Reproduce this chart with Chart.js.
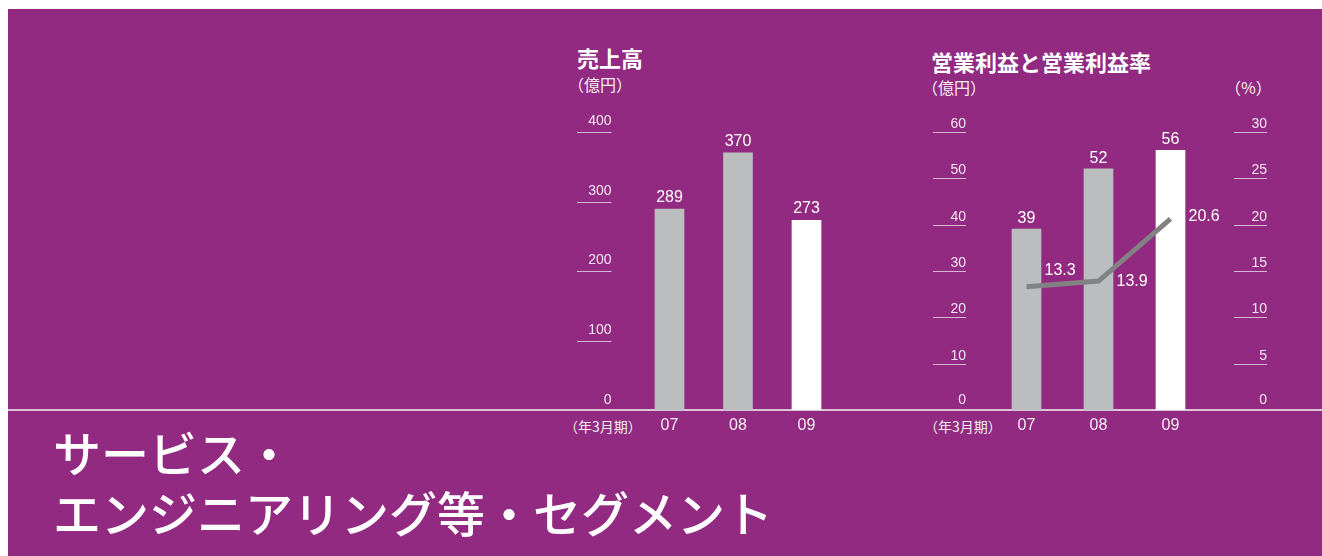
<!DOCTYPE html>
<html lang="ja">
<head>
<meta charset="utf-8">
<script src="https://cdn.jsdelivr.net/npm/chart.js@4.4.1/dist/chart.umd.min.js"></script>
<style>
  body { margin: 0; width: 1322px; height: 556px; background: #fff; position: relative; overflow: hidden; font-family: "Noto Sans CJK JP", sans-serif; }
  #panel { position: absolute; left: 8px; top: 9px; right: 0; bottom: 0; background: #922a82; }
  #rule { position: absolute; left: 8px; right: 0; top: 409px; height: 2px; background: #dcc3d8; }
  .t { position: absolute; color: #fff; white-space: nowrap; }
  .h { font-size: 22px; line-height: 22px; font-weight: 700; }
  .u { font-size: 16px; line-height: 16px; color: #f6ecf4; }
  .yr { font-size: 14px; line-height: 14px; color: #f6ecf4; }
  #big { left: 53px; top: 421px; font-size: 48px; line-height: 60px; font-weight: 500; }
  canvas { position: absolute; }
</style>
</head>
<body>
<div id="panel"></div>
<div id="rule"></div>

<div class="t h" style="left:577px; top:46px;">売上高</div>
<div class="t u" style="left:568px; top:76px;">（億円）</div>
<div class="t h" style="left:931px; top:50px;">営業利益と営業利益率</div>
<div class="t u" style="left:922px; top:79px;">（億円）</div>
<div class="t u" style="left:1225px; top:79px;">（%）</div>
<div class="t yr" style="left:564px; top:419px;">（年3月期）</div>
<div class="t yr" style="left:924px; top:419px;">（年3月期）</div>

<canvas id="sales" width="300" height="350" style="left:560px; top:100px;"></canvas>
<canvas id="profit" width="422" height="350" style="left:900px; top:100px;"></canvas>

<div class="t" id="big">サービス・<br>エンジニアリング等・セグメント</div>

<script>
var years = ['07', '08', '09'];
var salesValues = [289, 370, 273];
var profitValues = [39, 52, 56];
var marginValues = [13.3, 13.9, 20.6];
var salesTicks = [0, 100, 200, 300, 400];
var profitTicks = [0, 10, 20, 30, 40, 50, 60];
var marginTicks = [0, 5, 10, 15, 20, 25, 30];
var barColors = ['#bcbdbf', '#bcbdbf', '#ffffff'];

var numFont = '16px "Liberation Sans", Arial, sans-serif';
var tickFont = '14px "Liberation Sans Narrow", "Liberation Sans", Arial, sans-serif';

function fixedTicks(values) {
    return function (scale) {
        scale.ticks = values.map(function (v) { return { value: v }; });
    };
}

// short tick strokes with the number sitting on top of each one
var shortTicks = {
    id: 'shortTicks',
    afterDraw: function (chart, args, opts) {
        var ctx = chart.ctx;
        ctx.save();
        ctx.font = tickFont;
        ctx.textAlign = 'right';
        ctx.textBaseline = 'alphabetic';
        opts.axes.forEach(function (a) {
            var scale = chart.scales[a.id];
            scale.ticks.forEach(function (t) {
                var y = Math.round(scale.getPixelForValue(t.value));
                if (t.value !== 0) {
                    ctx.strokeStyle = '#d9b6d3';
                    ctx.lineWidth = 1;
                    ctx.beginPath();
                    ctx.moveTo(a.x1, y + 0.5);
                    ctx.lineTo(a.x2, y + 0.5);
                    ctx.stroke();
                }
                ctx.fillStyle = '#f3e6f1';
                ctx.fillText(String(t.value), a.x2, y - (t.value === 0 ? 6 : a.gap));
            });
        });
        ctx.restore();
    }
};

// values above bars, and beside the points of the line
var valueLabels = {
    id: 'valueLabels',
    afterDatasetsDraw: function (chart, args, opts) {
        var ctx = chart.ctx;
        ctx.save();
        ctx.font = numFont;
        ctx.fillStyle = '#ffffff';
        chart.data.datasets.forEach(function (ds, i) {
            var meta = chart.getDatasetMeta(i);
            meta.data.forEach(function (el, j) {
                if (ds.type === 'line') {
                    ctx.textAlign = 'left';
                    ctx.textBaseline = 'middle';
                    ctx.fillText(ds.data[j].toFixed(1), el.x + 18, el.y + opts.lineShift[j]);
                } else {
                    ctx.textAlign = 'center';
                    ctx.textBaseline = 'alphabetic';
                    ctx.fillText(String(ds.data[j]), el.x, el.y - opts.barGap);
                }
            });
        });
        ctx.restore();
    }
};

var xAxis = {
    grid: { display: false, drawTicks: false },
    border: { display: false },
    ticks: { color: '#f6ecf4', font: { family: '"Liberation Sans", Arial, sans-serif', size: 16 }, padding: 6 },
    afterFit: function (scale) { scale.height = 40; }
};

Chart.defaults.animation = false;

new Chart(document.getElementById('sales'), {
    type: 'bar',
    data: {
        labels: years,
        datasets: [{
            data: salesValues,
            backgroundColor: barColors,
            barThickness: 29
        }]
    },
    options: {
        responsive: false,
        events: [],
        layout: { padding: { left: 75.25, right: 19.25, top: 32, bottom: 0 } },
        plugins: {
            legend: { display: false },
            tooltip: { enabled: false },
            shortTicks: { axes: [{ id: 'y', x1: 17, x2: 51.5, gap: 7 }] },
            valueLabels: { barGap: 7, lineShift: [] }
        },
        scales: {
            x: xAxis,
            y: { display: false, min: 0, max: 400, afterBuildTicks: fixedTicks(salesTicks) }
        }
    },
    plugins: [shortTicks, valueLabels]
});

new Chart(document.getElementById('profit'), {
    data: {
        labels: years,
        datasets: [{
            type: 'line',
            data: marginValues,
            yAxisID: 'y1',
            borderColor: '#828282',
            borderWidth: 5,
            pointRadius: 0,
            tension: 0,
            order: 0
        }, {
            type: 'bar',
            data: profitValues,
            yAxisID: 'y',
            backgroundColor: barColors,
            barThickness: 29,
            order: 1
        }]
    },
    options: {
        responsive: false,
        events: [],
        layout: { padding: { left: 90.5, right: 115.5, top: 31.8, bottom: 0 } },
        plugins: {
            legend: { display: false },
            tooltip: { enabled: false },
            shortTicks: { axes: [{ id: 'y', x1: 33, x2: 66, gap: 4.5 }, { id: 'y1', x1: 334, x2: 367, gap: 4.5 }] },
            valueLabels: { barGap: 6, lineShift: [-16, 0, -2] }
        },
        scales: {
            x: xAxis,
            y: { display: false, min: 0, max: 60, afterBuildTicks: fixedTicks(profitTicks) },
            y1: { display: false, position: 'right', min: 0, max: 30, afterBuildTicks: fixedTicks(marginTicks) }
        }
    },
    plugins: [shortTicks, valueLabels]
});
</script>
</body>
</html>
